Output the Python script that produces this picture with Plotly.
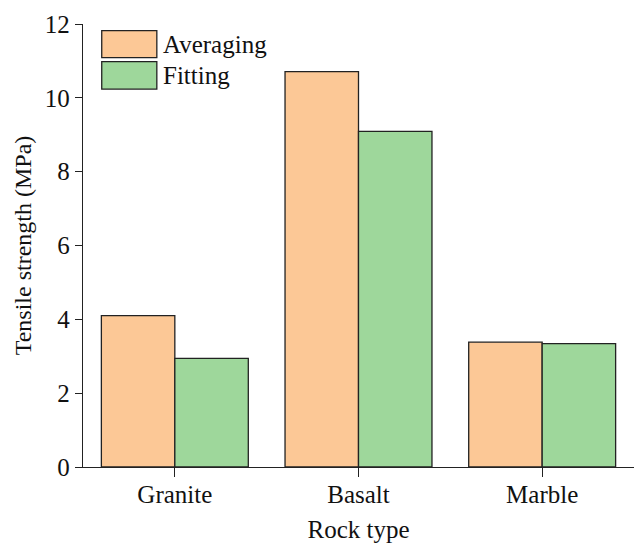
import plotly.graph_objects as go

categories = ["Granite", "Basalt", "Marble"]
averaging = [4.10, 10.71, 3.38]
fitting = [2.94, 9.09, 3.34]
series_names = ["Averaging", "Fitting"]
colors = ["#FCC896", "#9ED79B"]

FONT = "Liberation Serif, Times New Roman, serif"
FS = 25

fig = go.Figure()
for name, vals, col in zip(series_names, [averaging, fitting], colors):
    fig.add_trace(go.Bar(
        x=categories, y=vals, name=name,
        marker=dict(color=col, line=dict(color="#222222", width=1.3)),
        showlegend=False,
    ))

# custom legend (large swatches like the original)
leg_x0, leg_x1 = 0.034, 0.134
rows = [(0.985, 0.924), (0.915, 0.853)]
for (y1, y0), name, col in zip(rows, series_names, colors):
    fig.add_shape(type="rect", xref="paper", yref="paper",
                  x0=leg_x0, x1=leg_x1, y0=y0, y1=y1,
                  fillcolor=col, line=dict(color="#222222", width=1.3))
    fig.add_annotation(xref="paper", yref="paper", x=leg_x1 + 0.008, y=(y0 + y1) / 2,
                       text=name, showarrow=False, xanchor="left", yanchor="middle",
                       font=dict(family=FONT, size=FS, color="#111111"))

fig.update_layout(
    width=635, height=543,
    margin=dict(l=83, r=1, t=24, b=76),
    plot_bgcolor="white", paper_bgcolor="white",
    barmode="group", bargap=0.2, bargroupgap=0,
    font=dict(family=FONT, size=FS, color="#111111"),
    xaxis=dict(
        title=dict(text="Rock type", font=dict(family=FONT, size=FS), standoff=14),
        range=[-0.5, 2.5], showline=True, linecolor="#222222", linewidth=1.3,
        ticks="outside", ticklen=9, tickwidth=1.3, tickcolor="#222222",
        ticklabelstandoff=-4,
        showgrid=False, zeroline=False,
    ),
    yaxis=dict(
        title=dict(text="Tensile strength (MPa)", font=dict(family=FONT, size=24), standoff=6),
        range=[0, 12], dtick=2, tick0=0, showline=True, linecolor="#222222", linewidth=1.3,
        ticks="outside", ticklen=7, tickwidth=1.3, tickcolor="#222222",
        showgrid=False, zeroline=False,
    ),
)

fig.write_html("out.html")
